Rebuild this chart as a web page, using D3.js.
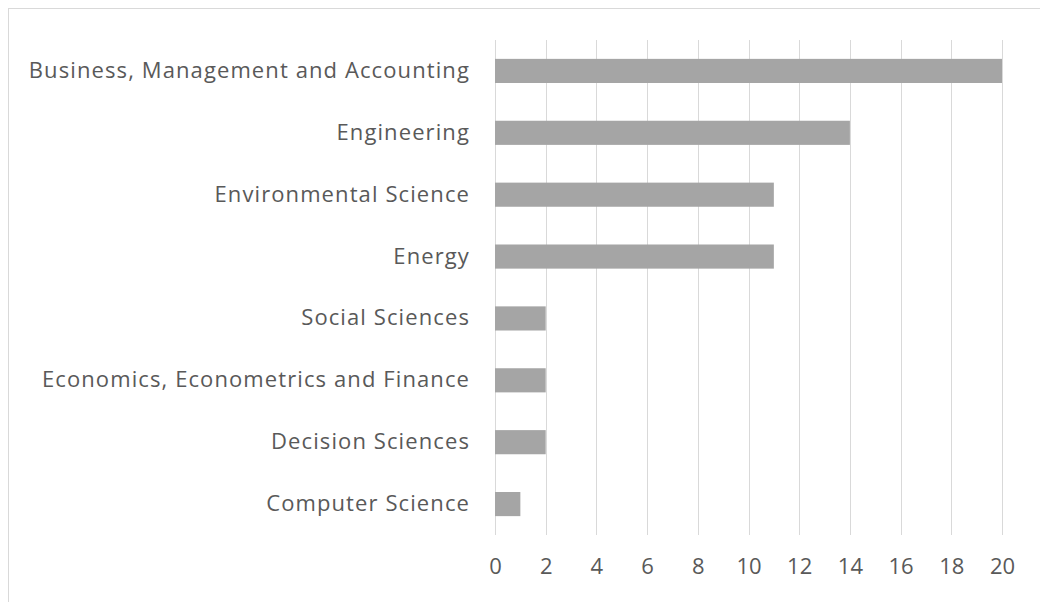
<!DOCTYPE html>
<html>
<head>
<meta charset="utf-8">
<script src="https://cdn.jsdelivr.net/npm/d3@7"></script>
<style>
  body { margin: 0; background: #fff; }
  svg text { font-family: "Open Sans", "Noto Sans", sans-serif; fill: #595959; }
</style>
</head>
<body>
<div id="chart"></div>
<script>
const categories = [
  "Business, Management and Accounting",
  "Engineering",
  "Environmental Science",
  "Energy",
  "Social Sciences",
  "Economics, Econometrics and Finance",
  "Decision Sciences",
  "Computer Science"
];
const counts = [20, 14, 11, 11, 2, 2, 2, 1];
const xTicks = [0, 2, 4, 6, 8, 10, 12, 14, 16, 18, 20];

const W = 1040, H = 602;
const margin = { top: 40, right: 38, bottom: 67, left: 495 };
const width = W - margin.left - margin.right,
  height = H - margin.top - margin.bottom;

const svg = d3.select("#chart")
  .append("svg")
  .attr("width", W)
  .attr("height", H);

// outer frame
svg.append("rect")
  .attr("x", 8.5).attr("y", 8.5)
  .attr("width", W).attr("height", H)
  .attr("fill", "none")
  .attr("stroke", "#d9d9d9");

const g = svg.append("g")
  .attr("transform", "translate(" + margin.left + "," + margin.top + ")");

const x = d3.scaleLinear().domain([0, 20]).range([0, 507]);
const y = d3.scaleBand().domain(categories).range([0, height]).paddingInner(0.61).paddingOuter(0.305);

// gridlines
g.append("g")
  .selectAll("line")
  .data(xTicks)
  .enter()
  .append("line")
  .attr("x1", (d) => Math.round(x(d)) + 0.5)
  .attr("x2", (d) => Math.round(x(d)) + 0.5)
  .attr("y1", 0)
  .attr("y2", height)
  .attr("stroke", "#d9d9d9")
  .attr("stroke-width", 1);

// bars
g.append("g")
  .selectAll("rect")
  .data(categories)
  .enter()
  .append("rect")
  .attr("x", x(0))
  .attr("y", (d) => y(d))
  .attr("width", (d, i) => x(counts[i]) - x(0))
  .attr("height", y.bandwidth())
  .attr("fill", "#a5a5a5");

// x axis
const xAxis = g.append("g")
  .attr("transform", "translate(0," + height + ")")
  .call(d3.axisBottom(x).tickValues(xTicks).tickSize(0).tickPadding(23));
xAxis.select(".domain").remove();
xAxis.selectAll("text").attr("font-size", 22).style("font-family", null);

// y axis
const yAxis = g.append("g")
  .call(d3.axisLeft(y).tickSize(0).tickPadding(25));
yAxis.select(".domain").remove();
yAxis.selectAll("text")
  .attr("font-size", 22)
  .attr("letter-spacing", 1.1)
  .style("font-family", null);
</script>
</body>
</html>
